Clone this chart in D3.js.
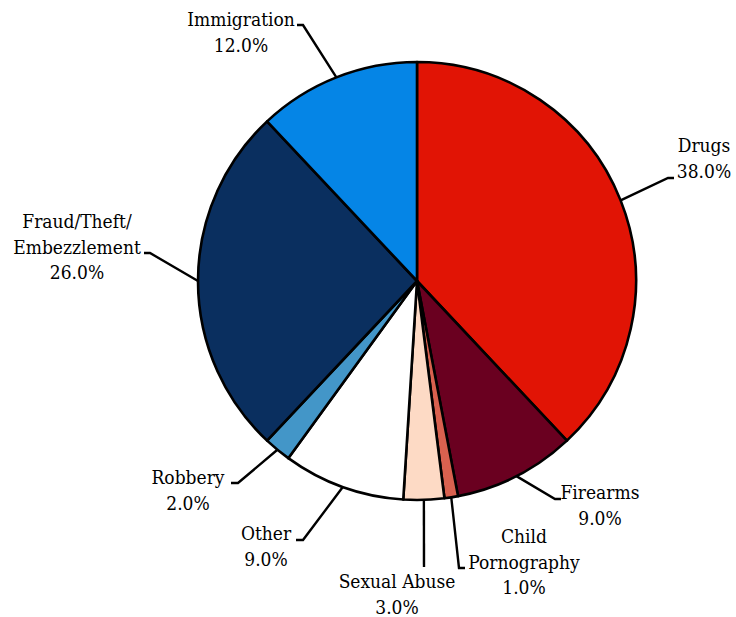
<!DOCTYPE html>
<html>
<head>
<meta charset="utf-8">
<script src="https://cdn.jsdelivr.net/npm/d3@7"></script>
<style>
  body { margin: 0; background: #fff; }
  text { font-family: "DejaVu Serif Condensed", "DejaVu Serif", serif; font-stretch: condensed; font-size: 19px; }
</style>
</head>
<body>
<div id="chart"></div>
<script>
const width = 736
const height = 617

// data, clockwise from 12 o'clock
const categories = ["Drugs", "Firearms", "Child Pornography", "Sexual Abuse", "Other", "Robbery", "Fraud/Theft/Embezzlement", "Immigration"]
const shares = [38.0, 9.0, 1.0, 3.0, 9.0, 2.0, 26.0, 12.0]
const labelLines = [["Drugs"], ["Firearms"], ["Child", "Pornography"], ["Sexual Abuse"], ["Other"], ["Robbery"], ["Fraud/Theft/", "Embezzlement"], ["Immigration"]]
const colors = ["#e11405", "#6a0020", "#d9614f", "#fddac5", "#ffffff", "#4396c8", "#0a2f5f", "#0585e6"]

// label layout: elbow of leader, end of short tick, text centre x, first baseline y
const labelLayout = [
    { elbow: [668, 178], tick: [674, 178], tx: 704, ty: 152 },
    { elbow: [555, 499], tick: [561, 499], tx: 600, ty: 499 },
    { elbow: [459, 568], tick: [465, 568], tx: 524, ty: 543 },
    { elbow: [424, 567], tick: [424, 567], tx: 397, ty: 588 },
    { elbow: [303, 540], tick: [296, 540], tx: 266, ty: 540 },
    { elbow: [238, 483], tick: [231, 483], tx: 188, ty: 484 },
    { elbow: [150, 253], tick: [144, 253], tx: 77, ty: 228 },
    { elbow: [303, 25], tick: [297, 25], tx: 241, ty: 26 }
]

const cx = 417, cy = 281, radius = 219
const lineH = 25.5

const svg = d3.select("#chart")
    .append("svg")
    .attr("width", width)
    .attr("height", height)

const pie = d3.pie().sort(null).value(d => d)
const arcs = pie(shares)

const arc = d3.arc().innerRadius(0).outerRadius(radius)
const edge = d3.arc().innerRadius(radius).outerRadius(radius)

const g = svg.append("g").attr("transform", `translate(${cx},${cy})`)

g.selectAll("path")
    .data(arcs)
    .enter()
    .append("path")
    .attr("d", arc)
    .attr("fill", (d, i) => colors[i])
    .attr("stroke", "#000")
    .attr("stroke-width", 2.6)
    .attr("stroke-linejoin", "round")

// leader lines
svg.append("g")
    .selectAll("polyline")
    .data(arcs)
    .enter()
    .append("polyline")
    .attr("points", (d, i) => {
        const p = edge.centroid(d)
        const L = labelLayout[i]
        return [[cx + p[0], cy + p[1]], L.elbow, L.tick].map(q => q.join(",")).join(" ")
    })
    .attr("fill", "none")
    .attr("stroke", "#000")
    .attr("stroke-width", 2.4)

// labels
const labels = svg.append("g")
    .selectAll("text")
    .data(arcs)
    .enter()
    .append("text")
    .attr("text-anchor", "middle")
    .attr("fill", "#000")

labels.each(function (d, i) {
    const L = labelLayout[i]
    const lines = labelLines[i].concat([d3.format(".1f")(shares[i]) + "%"])
    d3.select(this).selectAll("tspan")
        .data(lines)
        .enter()
        .append("tspan")
        .attr("x", L.tx)
        .attr("y", (t, k) => L.ty + k * lineH)
        .text(t => t)
})
</script>
</body>
</html>
